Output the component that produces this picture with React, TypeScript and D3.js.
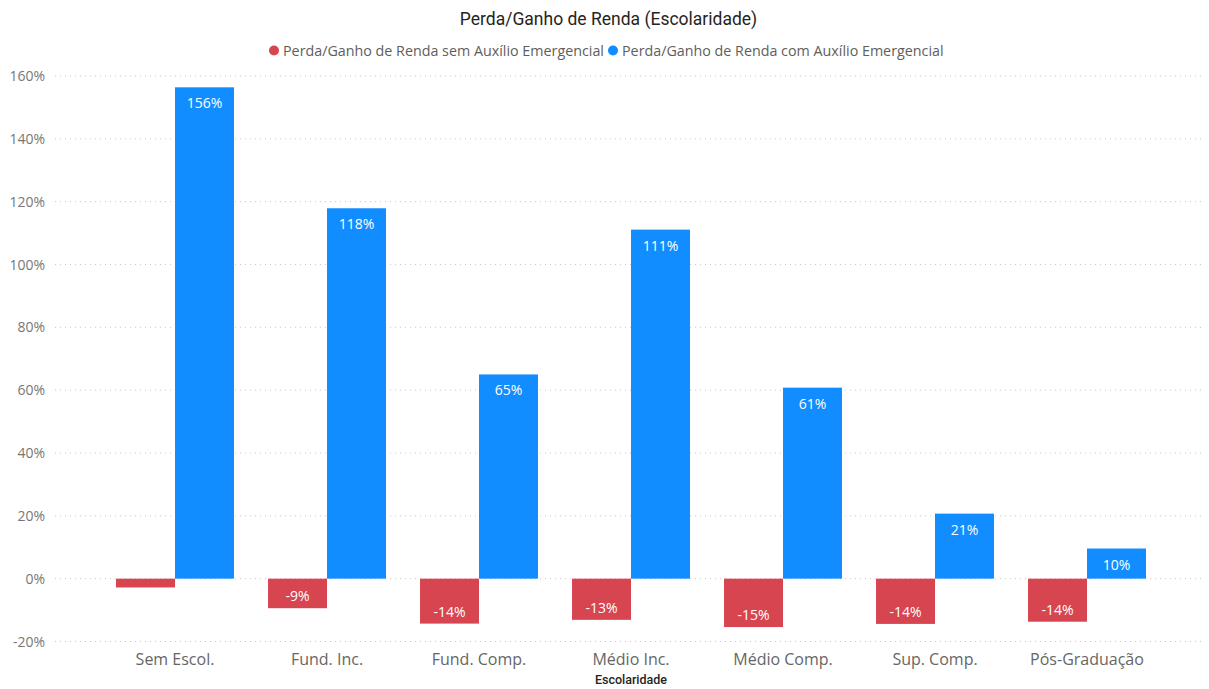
import React from "react";
import * as d3 from "d3";

const categories = ["Sem Escol.", "Fund. Inc.", "Fund. Comp.", "Médio Inc.", "Médio Comp.", "Sup. Comp.", "Pós-Graduação"];
const semAuxilio = [-0.028, -0.094, -0.143, -0.131, -0.154, -0.144, -0.137];
const comAuxilio = [1.564, 1.179, 0.65, 1.111, 0.608, 0.207, 0.096];
const seriesNames = ["Perda/Ganho de Renda sem Auxílio Emergencial", "Perda/Ganho de Renda com Auxílio Emergencial"];
const yTicks = [-0.2, 0, 0.2, 0.4, 0.6, 0.8, 1.0, 1.2, 1.4, 1.6];

const W = 1209;
const H = 689;
const RED = "#D64550";
const BLUE = "#118DFF";
const FONT = "'Segoe UI', 'Open Sans', 'Noto Sans', sans-serif";
const TITLE_FONT = "'DIN', 'Roboto', 'DejaVu Sans', sans-serif";

const locale = d3.formatLocale({ decimal: ",", thousands: ".", grouping: [3], currency: ["R$", ""], minus: "-" });

export default function App() {
  const x = d3.scaleBand<string>().domain(categories).range([99, 1163]).paddingInner(0.224).paddingOuter(0.112);
  const y = d3.scaleLinear().domain([-0.2, 1.6]).range([641.5, 76]);
  const sub = d3.scaleBand<number>().domain([0, 1]).range([0, x.bandwidth()]);
  const fmt = locale.format(".0%");
  const series = [semAuxilio, comAuxilio];
  const colors = [RED, BLUE];

  return (
    <svg width={W} height={H} style={{ position: "absolute", left: 0, top: 0, background: "#fff" }}>
      <text x={W / 2 + 4} y={25} textAnchor="middle" fontFamily={TITLE_FONT} fontSize={17.5} fontWeight={400} fill="#252423">
        Perda/Ganho de Renda (Escolaridade)
      </text>
      {/* legend */}
      <g fontFamily={FONT} fontSize={14.3} fill="#605E5C">
        <circle cx={274} cy={50.5} r={5} fill={RED} />
        <text x={283} y={55.5}>{seriesNames[0]}</text>
        <circle cx={613} cy={50.5} r={5} fill={BLUE} />
        <text x={622} y={55.5}>{seriesNames[1]}</text>
      </g>
      {/* grid + y axis */}
      {yTicks.map((t) => (
        <g key={t}>
          <line x1={55} x2={1205} y1={y(t)} y2={y(t)} stroke="#C8C8C8" strokeWidth={1} strokeDasharray="1 4" />
          <text x={45} y={y(t) + 5} textAnchor="end" fontFamily={FONT} fontSize={14} fill="#777">
            {fmt(t)}
          </text>
        </g>
      ))}
      {/* bars */}
      {categories.map((c, i) => (
        <g key={c} transform={`translate(${x(c)},0)`}>
          {series.map((s, k) => {
            const v = s[i];
            const y0 = y(Math.max(0, v));
            const y1 = y(Math.min(0, v));
            const bx = sub(k)!;
            const show = Math.abs(v) >= 0.05;
            return (
              <g key={k}>
                <rect x={bx} y={y0} width={sub.bandwidth()} height={y1 - y0} fill={colors[k]} />
                {show && (
                  <text
                    x={bx + sub.bandwidth() / 2}
                    y={v >= 0 ? y0 + 21 : y1 - 7}
                    textAnchor="middle"
                    fontFamily={FONT}
                    fontSize={14}
                    fill="#fff"
                  >
                    {fmt(v)}
                  </text>
                )}
              </g>
            );
          })}
        </g>
      ))}
      {/* x axis labels */}
      {categories.map((c) => (
        <text key={c} x={x(c)! + x.bandwidth() / 2} y={665} textAnchor="middle" fontFamily={FONT} fontSize={16} fill="#666">
          {c}
        </text>
      ))}
      <text x={631} y={684} textAnchor="middle" fontFamily={TITLE_FONT} fontSize={12.5} fontWeight={500} fill="#252423">
        Escolaridade
      </text>
    </svg>
  );
}
